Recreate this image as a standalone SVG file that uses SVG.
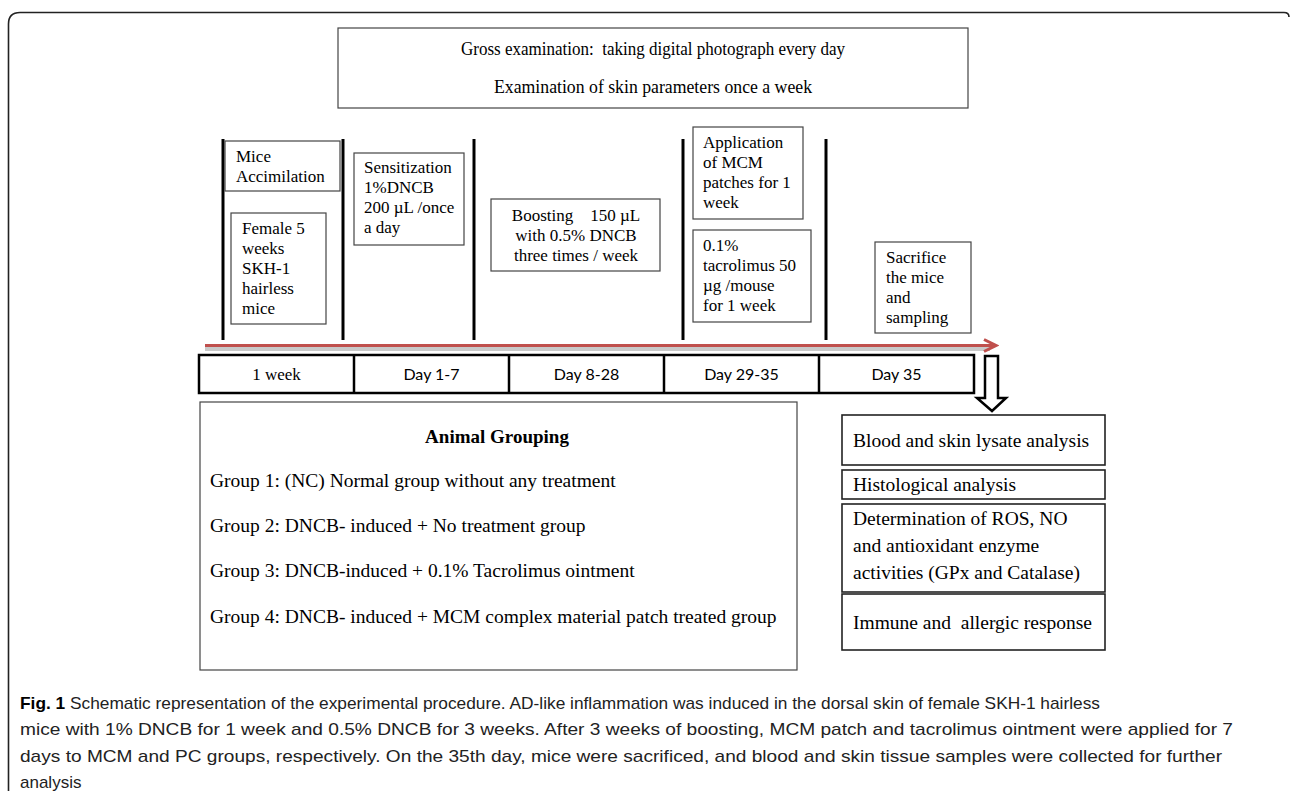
<svg xmlns="http://www.w3.org/2000/svg" width="1290" height="791" viewBox="0 0 1290 791">
<style>
.serif{font-family:"Liberation Serif","Times New Roman",serif;fill:#000}
.sans{font-family:Lato,"Liberation Sans",sans-serif;fill:#000}
.cap{font-family:"Liberation Sans",Arial,sans-serif;fill:#222;font-size:17px}
.box{fill:#fff;stroke:#444;stroke-width:1.2}
.obox{fill:#fff;stroke:#222;stroke-width:1.6}
.vline{stroke:#000;stroke-width:3}
.s17{font-size:17px}
.s19{font-size:19.5px}
</style>
<defs>
<marker id="redhead" markerWidth="16" markerHeight="16" viewBox="0 0 16 16" refX="13" refY="8" orient="auto" markerUnits="userSpaceOnUse">
<path d="M1 2 L13 8 L1 14" fill="none" stroke="#c0504d" stroke-width="3" stroke-linejoin="miter"/>
</marker>
</defs>
<rect width="1290" height="791" fill="#fff"/>
<path d="M8.5 791 V24 Q8.5 12.5 20 12.5 H1284 Q1289 12.5 1289 17" fill="none" stroke="#222" stroke-width="1.6"/>

<g id="top-box">
<rect class="box" x="338" y="28" width="630" height="80"/>
<text class="serif" x="653" y="55" font-size="18" text-anchor="middle" textLength="384" lengthAdjust="spacingAndGlyphs" xml:space="preserve">Gross examination:  taking digital photograph every day</text>
<text class="serif" x="653" y="93" font-size="18" text-anchor="middle" textLength="318" lengthAdjust="spacingAndGlyphs">Examination of skin parameters once a week</text>
</g>

<g id="dividers">
<line class="vline" x1="223" y1="139" x2="223" y2="340"/>
<line class="vline" x1="343" y1="139" x2="343" y2="340"/>
<line class="vline" x1="474" y1="139" x2="474" y2="340"/>
<line class="vline" x1="683" y1="139" x2="683" y2="340"/>
<line class="vline" x1="826" y1="139" x2="826" y2="340"/>
</g>

<g id="mice-accimilation">
<rect class="box" x="225" y="141" width="115" height="50"/>
<text class="serif s17" x="236"><tspan x="236" y="162">Mice</tspan><tspan x="236" y="182">Accimilation</tspan></text>
</g>

<g id="female-mice">
<rect class="box" x="231" y="213" width="95" height="111"/>
<text class="serif s17"><tspan x="242" y="234">Female 5</tspan><tspan x="242" y="254">weeks</tspan><tspan x="242" y="274">SKH-1</tspan><tspan x="242" y="294">hairless</tspan><tspan x="242" y="314">mice</tspan></text>
</g>

<g id="sensitization">
<rect class="box" x="354" y="153" width="110" height="92"/>
<text class="serif s17"><tspan x="364" y="173">Sensitization</tspan><tspan x="364" y="193">1%DNCB</tspan><tspan x="364" y="213">200 µL /once</tspan><tspan x="364" y="233">a day</tspan></text>
</g>

<g id="boosting">
<rect class="box" x="491" y="199" width="169" height="72"/>
<text class="serif s17" text-anchor="middle" xml:space="preserve"><tspan x="576" y="221">Boosting    150 µL</tspan><tspan x="576" y="241">with 0.5% DNCB</tspan><tspan x="576" y="261">three times / week</tspan></text>
</g>

<g id="application-mcm">
<rect class="box" x="693" y="127" width="110" height="92"/>
<text class="serif s17"><tspan x="703" y="148">Application</tspan><tspan x="703" y="168">of MCM</tspan><tspan x="703" y="188">patches for 1</tspan><tspan x="703" y="208">week</tspan></text>
</g>

<g id="tacrolimus">
<rect class="box" x="693" y="230" width="118" height="92"/>
<text class="serif s17"><tspan x="703" y="251">0.1%</tspan><tspan x="703" y="271">tacrolimus 50</tspan><tspan x="703" y="291">µg /mouse</tspan><tspan x="703" y="311">for 1 week</tspan></text>
</g>

<g id="sacrifice">
<rect class="box" x="875" y="242" width="96" height="91"/>
<text class="serif s17"><tspan x="886" y="263">Sacrifice</tspan><tspan x="886" y="283">the mice</tspan><tspan x="886" y="303">and</tspan><tspan x="886" y="323">sampling</tspan></text>
</g>

<g id="connectors">
<line x1="205" y1="349" x2="990" y2="349" stroke="#c9c9c9" stroke-width="4"/>
<line x1="205" y1="345.5" x2="996" y2="345.5" stroke="#c0504d" stroke-width="3" marker-end="url(#redhead)"/>
<path d="M985 356 H998 V398 H1006 L992 411 L977 398 H985 Z" fill="#fff" stroke="#000" stroke-width="2.5" stroke-linejoin="miter"/>
</g>

<g id="timeline">
<rect x="199" y="355" width="775" height="38" fill="#fff" stroke="#000" stroke-width="2.5"/>
<line x1="354" y1="355" x2="354" y2="393" stroke="#000" stroke-width="2.5"/>
<line x1="509" y1="355" x2="509" y2="393" stroke="#000" stroke-width="2.5"/>
<line x1="664" y1="355" x2="664" y2="393" stroke="#000" stroke-width="2.5"/>
<line x1="819" y1="355" x2="819" y2="393" stroke="#000" stroke-width="2.5"/>
<text class="serif s17" x="276.5" y="380" text-anchor="middle">1 week</text>
<text class="sans" font-size="16" x="431.5" y="380" text-anchor="middle">Day 1-7</text>
<text class="sans" font-size="16" x="586.5" y="380" text-anchor="middle">Day 8-28</text>
<text class="sans" font-size="16" x="741.5" y="380" text-anchor="middle">Day 29-35</text>
<text class="sans" font-size="16" x="896.5" y="380" text-anchor="middle">Day 35</text>
</g>

<g id="animal-grouping">
<rect class="box" x="200" y="402" width="597" height="268"/>
<text class="serif" x="497" y="443" font-size="19" font-weight="bold" text-anchor="middle">Animal Grouping</text>
<text class="serif s19" x="210" y="487">Group 1: (NC) Normal group without any treatment</text>
<text class="serif s19" x="210" y="532">Group 2: DNCB- induced + No treatment group</text>
<text class="serif s19" x="210" y="577">Group 3: DNCB-induced + 0.1% Tacrolimus ointment</text>
<text class="serif s19" x="210" y="623">Group 4: DNCB- induced + MCM complex material patch treated group</text>
</g>

<g id="blood-skin">
<rect class="obox" x="842" y="415" width="263" height="50"/>
<text class="serif s19" x="853" y="447">Blood and skin lysate analysis</text>
</g>
<g id="histological">
<rect class="obox" x="842" y="470" width="263" height="29"/>
<text class="serif s19" x="853" y="491">Histological analysis</text>
</g>
<g id="determination">
<rect class="obox" x="842" y="504" width="263" height="88"/>
<text class="serif s19"><tspan x="853" y="525">Determination of ROS, NO</tspan><tspan x="853" y="552">and antioxidant enzyme</tspan><tspan x="853" y="579">activities (GPx and Catalase)</tspan></text>
</g>
<g id="immune">
<rect class="obox" x="842" y="594" width="263" height="56"/>
<text class="serif s19" x="853" y="629" xml:space="preserve">Immune and  allergic response</text>
</g>

<g id="caption">
<text class="cap" x="20" y="709" textLength="1080" lengthAdjust="spacingAndGlyphs"><tspan font-weight="bold" fill="#000">Fig. 1</tspan> Schematic representation of the experimental procedure. AD-like inflammation was induced in the dorsal skin of female SKH-1 hairless</text>
<text class="cap" x="20" y="735" textLength="1213" lengthAdjust="spacingAndGlyphs">mice with 1% DNCB for 1 week and 0.5% DNCB for 3 weeks. After 3 weeks of boosting, MCM patch and tacrolimus ointment were applied for 7</text>
<text class="cap" x="20" y="762" textLength="1202" lengthAdjust="spacingAndGlyphs">days to MCM and PC groups, respectively. On the 35th day, mice were sacrificed, and blood and skin tissue samples were collected for further</text>
<text class="cap" x="20" y="788">analysis</text>
</g>
</svg>
